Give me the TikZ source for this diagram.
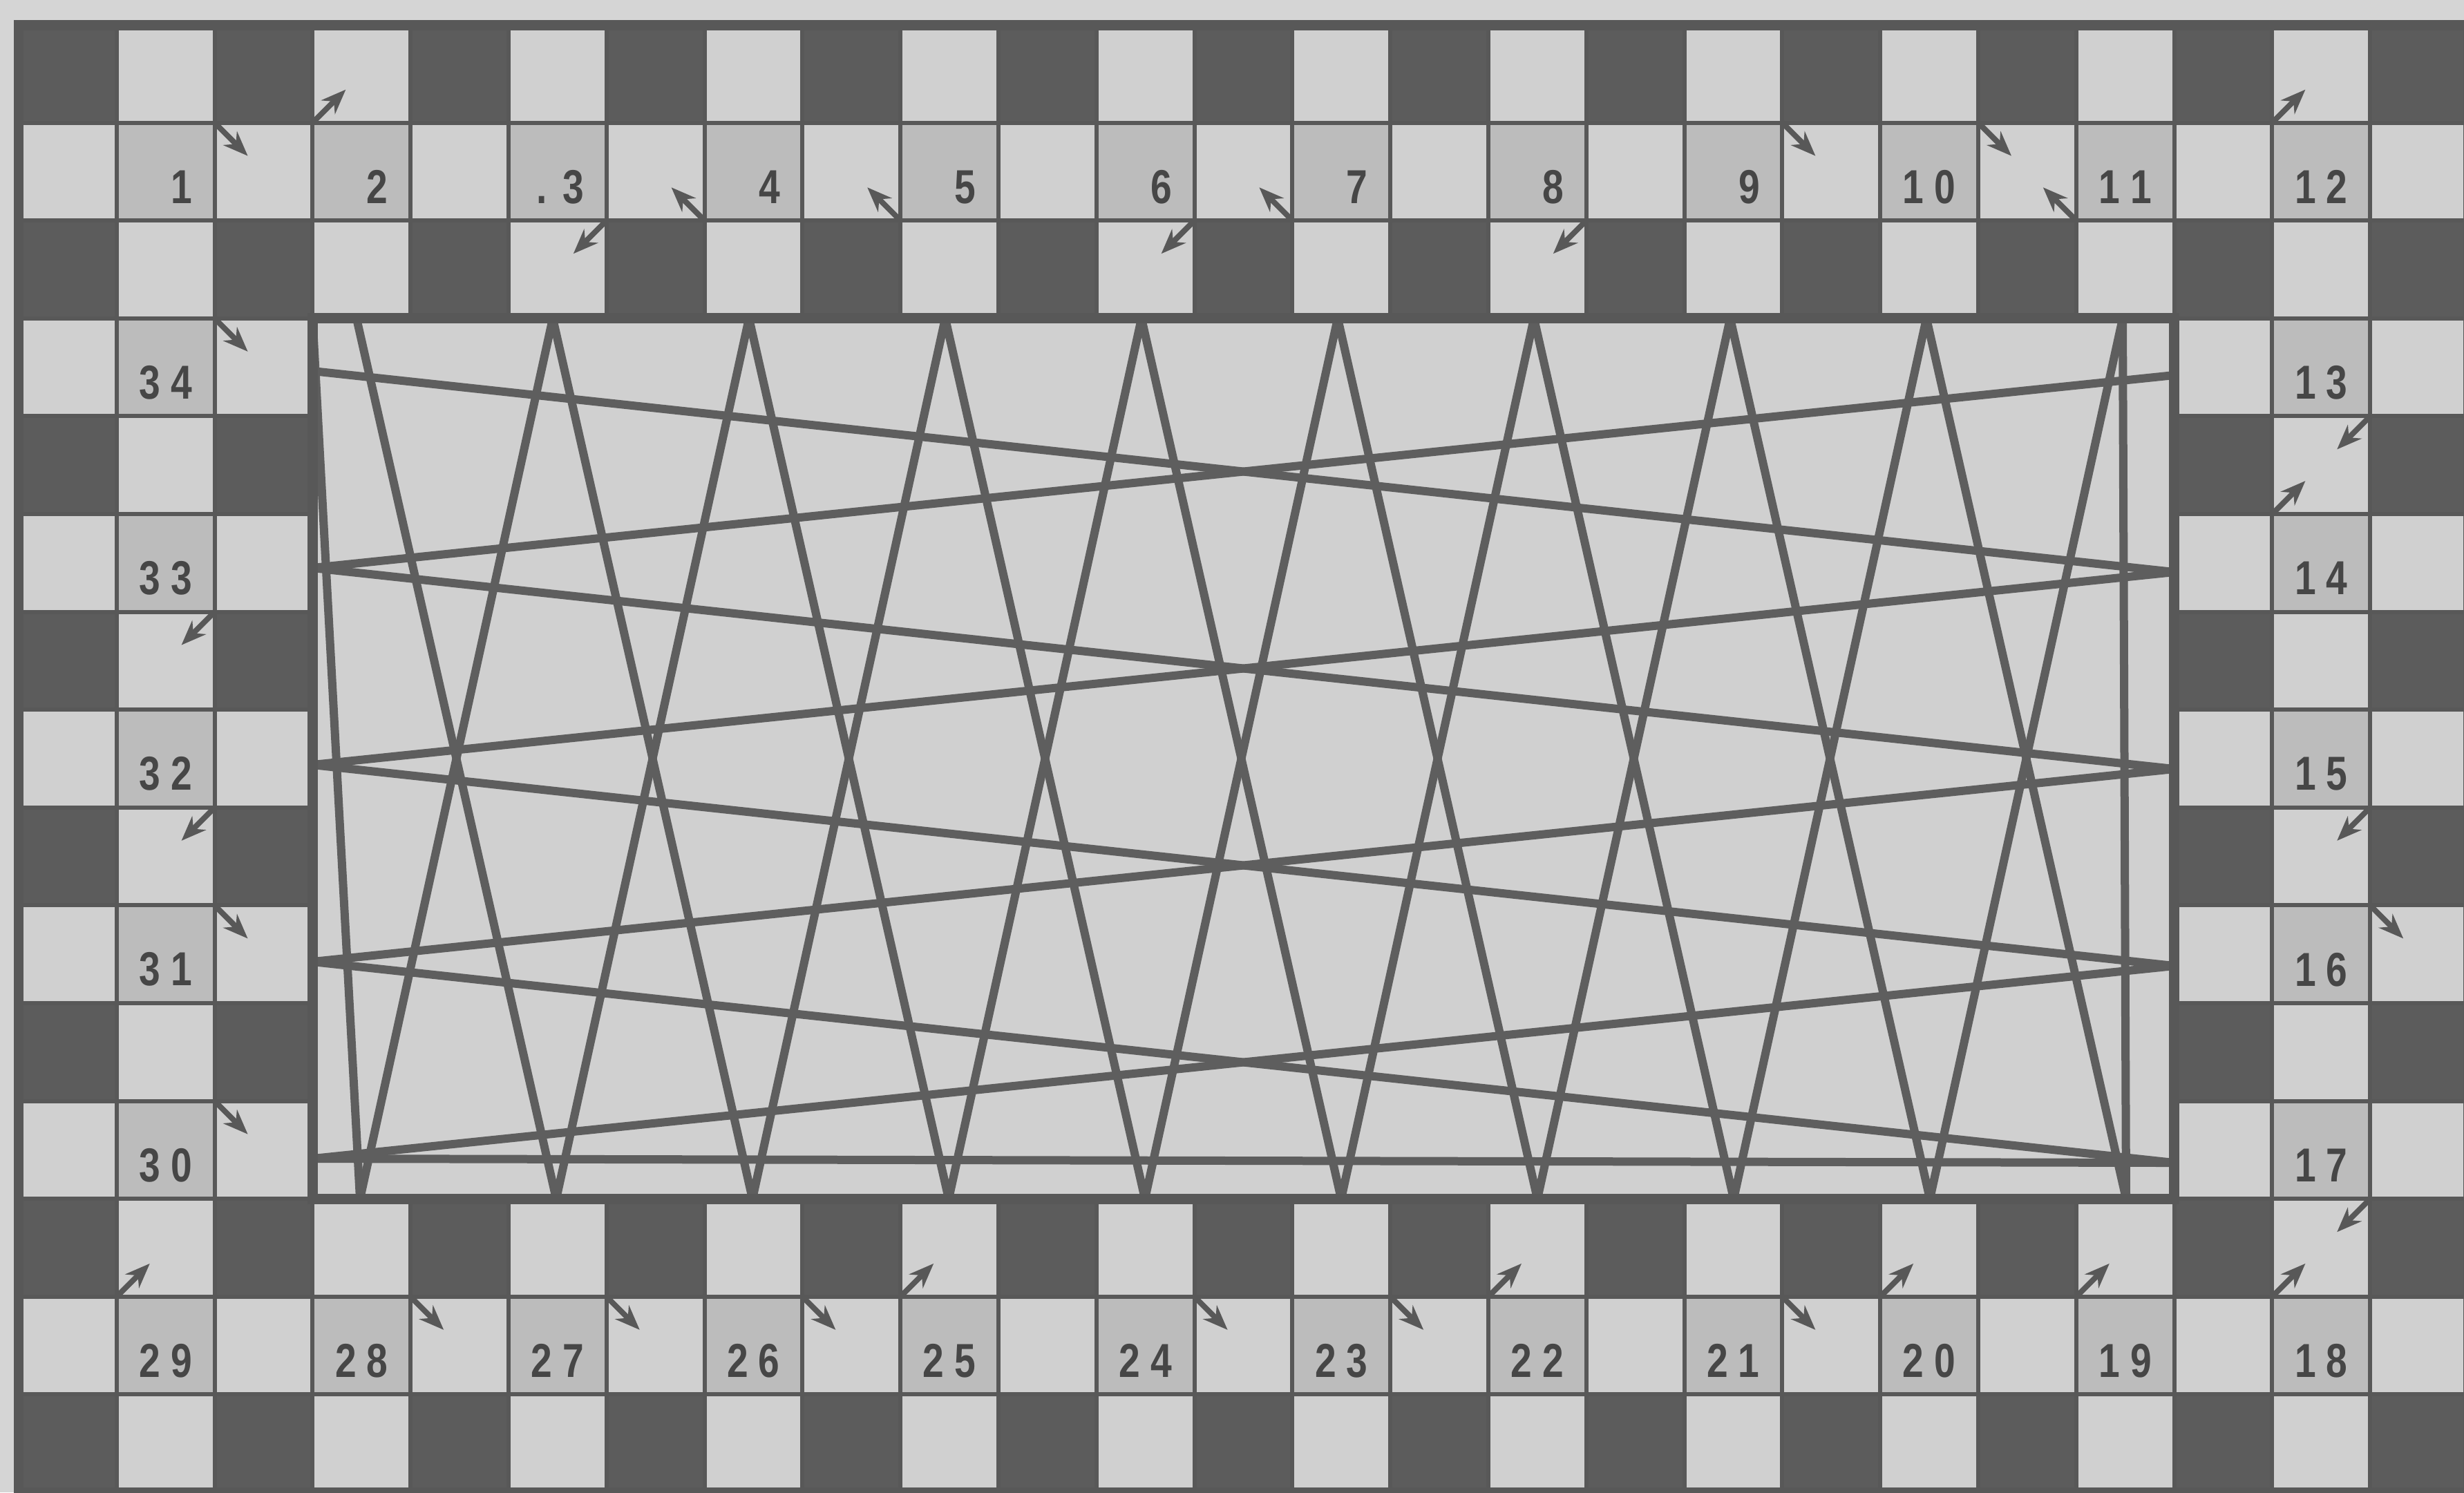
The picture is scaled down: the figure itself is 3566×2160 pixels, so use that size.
\documentclass[tikz,border=0pt]{standalone}
\usepackage{fontspec}
\newfontfamily\numfont[FakeStretch=0.8]{Liberation Sans Bold}
\usetikzlibrary{arrows.meta}
\definecolor{bgc}{HTML}{D5D5D5}
\definecolor{litec}{HTML}{D0D0D0}
\definecolor{darkc}{HTML}{5C5C5C}
\definecolor{linec}{HTML}{585858}
\definecolor{zigc}{HTML}{5E5E5E}
\definecolor{shadec}{HTML}{BCBCBC}
\definecolor{textc}{HTML}{464646}
\newcommand\twodig[2]{#1\kern1.5pt#2}
\newcommand\onedig[1]{\phantom{0}\kern1.5pt#1}
\newcommand\dotthree{\ooalign{\phantom{0}\cr\hfil.\hfil}\kern1.5pt 3}
\begin{document}
\begin{tikzpicture}[x=0.1pt,y=-0.1pt,
  numcell/.style={draw=linec,line width=0.6pt,fill=shadec,minimum width=14.18pt,minimum height=14.16pt,inner sep=0pt,outer sep=0pt},
  numtext/.style={font={\numfont\fontsize{6.9pt}{7pt}\selectfont},text=textc,inner sep=0pt},
  gridl/.style={draw=linec,line width=0.6pt},
  frame/.style={draw=linec,line width=1.5pt},
  zig/.style={draw=zigc,line width=1.2pt},
  arr/.style={draw=linec,line width=0.8pt,-{Stealth[length=3.6pt,width=2.8pt]}}]
\clip (0,0) rectangle (3566,2160);
\fill[bgc] (0,0) rectangle (3566,2160);
\fill[litec] (27,36) rectangle (3572,2160);
% dark squares of the checkered border
\foreach \r in {0,2,...,14}{\foreach \c in {0,2,...,24}{
  \fill[darkc] ({27+141.8*\c},{36+141.6*\r}) rectangle ({27+141.8*(\c+1)},{36+141.6*(\r+1)});}}
% grid lines
\foreach \k in {0,...,15}{\draw[gridl] (27,{36+141.6*\k}) -- (3572,{36+141.6*\k});}
\foreach \k in {0,...,25}{\draw[gridl] ({27+141.8*\k},36) -- ({27+141.8*\k},2160);}
% numbered squares
\foreach \k/\c/\r in {1/1/1,2/3/1,3/5/1,4/7/1,5/9/1,6/11/1,7/13/1,8/15/1,9/17/1,10/19/1,11/21/1,12/23/1,
  13/23/3,14/23/5,15/23/7,16/23/9,17/23/11,
  18/23/13,19/21/13,20/19/13,21/17/13,22/15/13,23/13/13,24/11/13,25/9/13,26/7/13,27/5/13,28/3/13,29/1/13,
  30/1/11,31/1/9,32/1/7,33/1/5,34/1/3}{
  \node[numcell] (c\k) at ({27+141.8*(\c+0.5)},{36+141.6*(\r+0.5)}) {};}
% inner field
\fill[litec] (452.4,460.8) rectangle (3146.6,1735.2);
% zigzag vertices
\coordinate (TL) at (452.4,460.8);
\foreach \i in {0,...,9}{\coordinate (T\i) at ({516+284*\i},460.8); \coordinate (B\i) at ({521+284*\i},1735.2);}
\foreach \i in {0,...,4}{\coordinate (L\i) at (452.4,{537+285*\i}); \coordinate (R\i) at (3146.6,{543+285*\i});}
\draw[zig] (TL) -- (B0);
\draw[zig] (T9) -- (B9);
\foreach \i [evaluate=\i as \j using int(\i+1)] in {0,...,8}{\draw[zig] (T\i) -- (B\j); \draw[zig] (T\j) -- (B\i);}
\foreach \i [evaluate=\i as \j using int(\i+1)] in {0,...,3}{\draw[zig] (L\i) -- (R\j); \draw[zig] (L\j) -- (R\i);}
\draw[zig] (L4) -- (R4);
% frames
\draw[frame] (452.4,460.8) rectangle (3146.6,1735.2);
\draw[frame] (27,36) rectangle (3572,2160);
% numbers
\foreach \k/\lab in {1/\onedig{1},2/\onedig{2},3/\dotthree,4/\onedig{4},5/\onedig{5},6/\onedig{6},7/\onedig{7},8/\onedig{8},9/\onedig{9},
  10/\twodig{1}{0},11/\twodig{1}{1},12/\twodig{1}{2},13/\twodig{1}{3},14/\twodig{1}{4},15/\twodig{1}{5},16/\twodig{1}{6},17/\twodig{1}{7},
  18/\twodig{1}{8},19/\twodig{1}{9},20/\twodig{2}{0},21/\twodig{2}{1},22/\twodig{2}{2},23/\twodig{2}{3},24/\twodig{2}{4},25/\twodig{2}{5},
  26/\twodig{2}{6},27/\twodig{2}{7},28/\twodig{2}{8},29/\twodig{2}{9},30/\twodig{3}{0},31/\twodig{3}{1},32/\twodig{3}{2},33/\twodig{3}{3},34/\twodig{3}{4}}{
  \node[numtext] (t\k) at ([yshift=-2.2pt]c\k.center) {\lab};}
% arrows
\foreach \k/\a/\dx/\dy in {1/north east/48/48,2/north west/48/-48,3/south east/-48/48,4/south west/-48/-48,
  5/south west/-48/-48,6/south east/-48/48,7/south west/-48/-48,8/south east/-48/48,9/north east/48/48,
  10/north east/48/48,11/south west/-48/-48,12/north west/48/-48,13/south east/-48/48,14/north west/48/-48,
  15/south east/-48/48,16/north east/48/48,17/south east/-48/48,18/north west/48/-48,19/north west/48/-48,
  20/north west/48/-48,21/north east/48/48,22/north west/48/-48,23/north east/48/48,24/north east/48/48,
  25/north west/48/-48,26/north east/48/48,27/north east/48/48,28/north east/48/48,29/north west/48/-48,
  30/north east/48/48,31/north east/48/48,32/south east/-48/48,33/south east/-48/48,34/north east/48/48}{
  \coordinate (a\k) at ([shift={(\dx,\dy)}]c\k.\a);
  \draw[arr] (c\k.\a) -- (a\k);}
\end{tikzpicture}
\end{document}
